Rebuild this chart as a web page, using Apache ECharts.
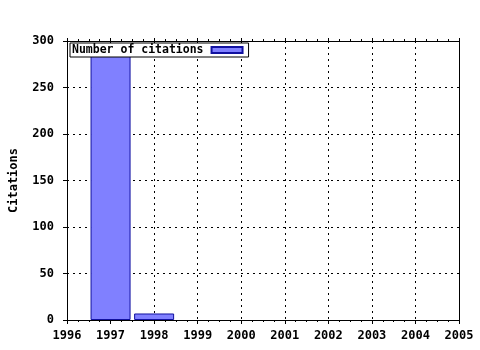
<!DOCTYPE html>
<html>
<head>
<meta charset="utf-8">
<script src="https://cdn.jsdelivr.net/npm/echarts@6/dist/echarts.min.js"></script>
<style>html,body{margin:0;padding:0;background:#fff}#c{width:480px;height:350px}</style>
</head>
<body>
<div id="c"></div>
<script>
const years = [1997, 1998];
const citations = [286, 7];
const seriesName = 'Number of citations';
const yAxisTitle = 'Citations';
const xMin = 1996, xMax = 2005;
const yMin = 0, yMax = 300, yStep = 50;

const font = '"DejaVu Sans Mono", monospace';
const chart = echarts.init(document.getElementById('c'), null, {renderer: 'canvas'});
const grid = {left: 66, right: 21, top: 41, bottom: 30};
const dotted = {color: '#000', width: 1, type: [2, 4]};
chart.setOption({
  animation: false,
  backgroundColor: '#fff',
  grid: grid,
  legend: {
    data: [seriesName],
    left: 70, top: 43,
    orient: 'horizontal',
    align: 'right',
    backgroundColor: '#fff',
    borderColor: '#000', borderWidth: 1, borderRadius: 0,
    padding: [1, 5, 1, 2],
    itemWidth: 31, itemHeight: 6, itemGap: 0,
    icon: 'rect',
    textStyle: {fontFamily: font, fontWeight: 'bold', fontSize: 11.5, color: '#000', padding: [0, 3, 0, 0]}
  },
  xAxis: [{
    type: 'value', min: xMin, max: xMax, interval: 1, position: 'bottom',
    axisLine: {show: true, lineStyle: {color: '#000', width: 1}},
    axisTick: {show: true, length: 4, inside: false, lineStyle: {color: '#000'}},
    minorTick: {show: true, splitNumber: 4, length: 2, lineStyle: {color: '#000'}},
    axisLabel: {fontFamily: font, fontWeight: 'bold', fontSize: 12, color: '#000', margin: 10, formatter: v => String(v)},
    splitLine: {show: true, lineStyle: dotted}
  }, {
    type: 'value', min: xMin, max: xMax, interval: 1, position: 'top',
    axisLine: {show: true, onZero: false, lineStyle: {color: '#000', width: 1}},
    axisTick: {show: true, length: 3, lineStyle: {color: '#000'}},
    minorTick: {show: true, splitNumber: 4, length: 2, lineStyle: {color: '#000'}},
    axisLabel: {show: false},
    splitLine: {show: false}
  }],
  yAxis: [{
    type: 'value', min: yMin, max: yMax, interval: yStep,
    name: yAxisTitle, nameLocation: 'middle', nameGap: 47, nameRotate: 90,
    nameTextStyle: {fontFamily: font, fontWeight: 'bold', fontSize: 12, color: '#000'},
    axisLine: {show: true, onZero: false, lineStyle: {color: '#000', width: 1}},
    axisTick: {show: true, length: 4, lineStyle: {color: '#000'}},
    axisLabel: {fontFamily: font, fontWeight: 'bold', fontSize: 12, color: '#000', margin: 13},
    splitLine: {show: true, lineStyle: dotted}
  }, {
    type: 'value', min: yMin, max: yMax, interval: yStep, position: 'right',
    axisLine: {show: true, onZero: false, lineStyle: {color: '#000', width: 1}},
    axisTick: {show: false}, axisLabel: {show: false}, splitLine: {show: false}
  }],
  series: [{
    name: seriesName,
    type: 'bar',
    xAxisIndex: 0, yAxisIndex: 0,
    barWidth: 40,
    data: years.map((y, i) => [y, citations[i]]),
    itemStyle: {color: '#8080ff', borderColor: '#1010a0', borderWidth: 1}
  }]
});
</script>
</body>
</html>
